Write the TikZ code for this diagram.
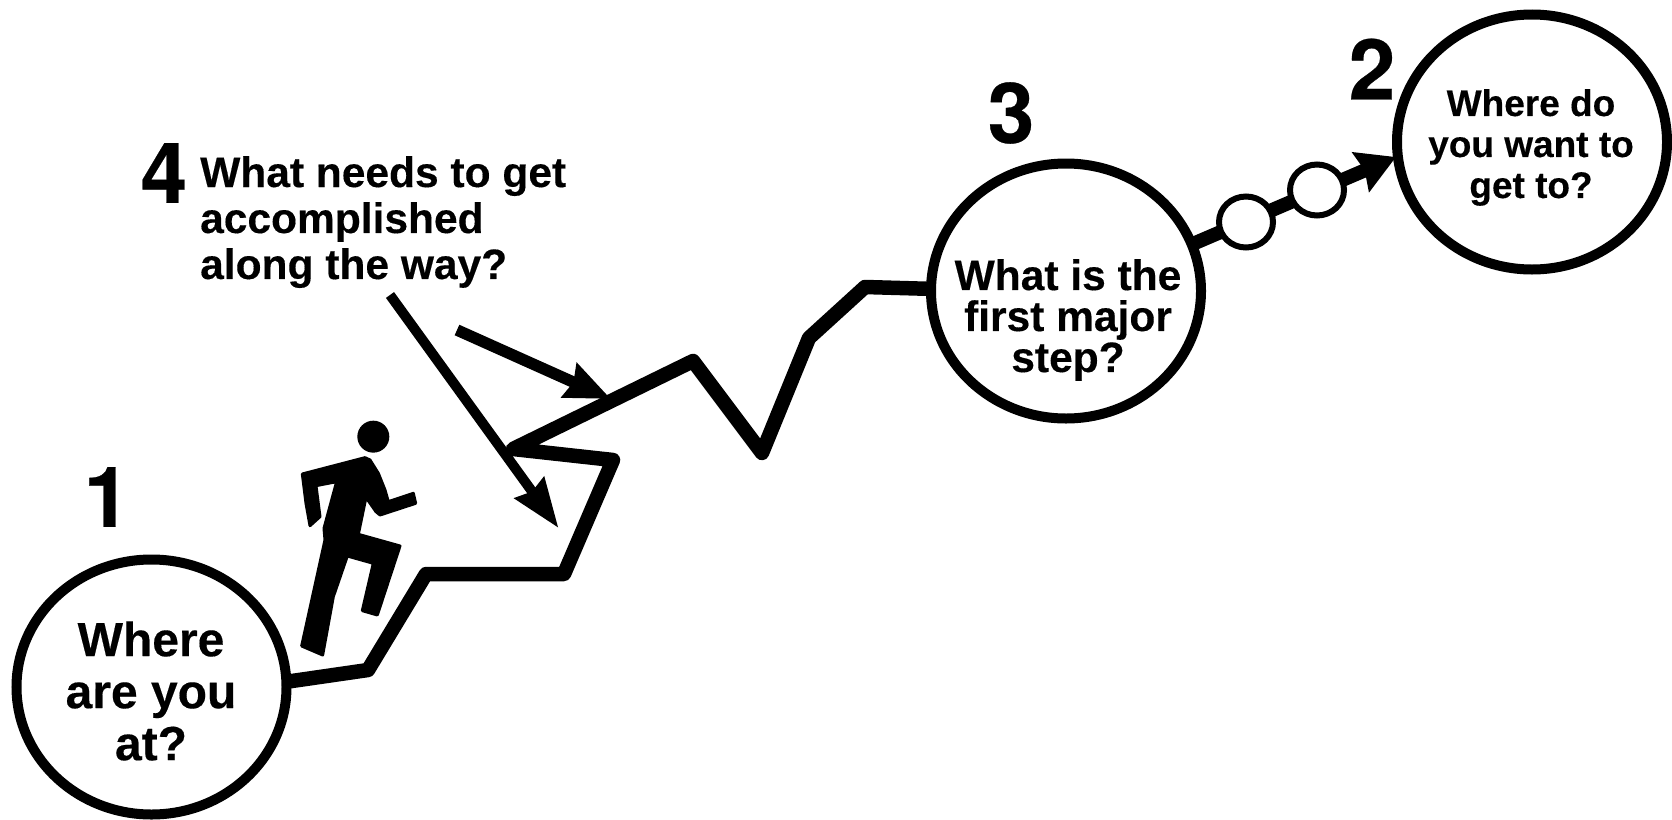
\documentclass[tikz,border=0pt]{standalone}
\usepackage{fontspec}
\setmainfont[BoldFeatures={FakeBold=0.3}]{Liberation Sans}
\newfontfamily\numfont[BoldFeatures={FakeBold=0.3}]{TeX Gyre Heros}
\usetikzlibrary{shapes.geometric,arrows.meta}
\tikzset{
  bubble/.style={ellipse,draw=black,fill=white,line width=10pt,inner sep=0pt,minimum width=270pt,minimum height=255pt},
  bubbletext/.style={inner sep=0pt,align=center},
  smallbubble/.style={ellipse,draw=black,fill=white,line width=6pt,inner sep=0pt,minimum width=54pt,minimum height=51pt},
  numlabel/.style={inner sep=0pt,font=\numfont\fontsize{84}{84}\selectfont\bfseries},
  trail/.style={line width=14.5pt,line join=round,line cap=round},
}
\begin{document}
\begin{tikzpicture}[x=1pt,y=-1pt]
\useasboundingbox (0,0) rectangle (1672,819);
\fill[white] (0,0) rectangle (1672,819);
% way points
\coordinate (s0) at (285,682);
\coordinate (s1) at (368,670);
\coordinate (s2) at (426,574);
\coordinate (s3) at (564,574);
\coordinate (s4) at (613,460);
\coordinate (s5) at (513,449);
\coordinate (s6) at (693,361);
\coordinate (s7) at (762,453);
\coordinate (s8) at (809,338);
\coordinate (s9) at (865,287);
\coordinate (s10) at (935,289);
\coordinate (a1s) at (390,295);
\coordinate (a1e) at (558.5,528);
\coordinate (a2s) at (457,330);
\coordinate (a2e) at (611,399);
\coordinate (a3s) at (1195,243);
\coordinate (a3e) at (1396,157);
% trail
\draw[trail] (s0) -- (s1) -- (s2) -- (s3) -- (s4) -- (s5) -- (s6) -- (s7) -- (s8) -- (s9) -- (s10);
\draw[-{Stealth[length=38pt,width=42pt,inset=4pt]},line width=14pt] (a3s) -- (a3e);
\draw[-{Stealth[length=49pt,width=35pt,inset=4pt]},line width=10pt] (a1s) -- (a1e);
\draw[-{Stealth[length=45pt,width=36pt,inset=4pt]},line width=11.5pt] (a2s) -- (a2e);
% bubbles
\node[bubble] (c1) at (151.5,687) {};
\node[bubble] (c3) at (1066,291) {};
\node[bubble] (c2) at (1532,142) {};
\node[bubbletext,font=\fontsize{48}{52}\selectfont\bfseries] (t1) at (151,691) {Where\\are you\\at?};
\node[bubbletext,font=\fontsize{42.5}{41}\selectfont\bfseries] (t3) at (1068,320) {What is the\\first major\\step?};
\node[bubbletext,font=\fontsize{37}{41}\selectfont\bfseries] (t2) at (1531,147.5) {Where do\\you want to\\get to?};
\node[smallbubble] (b1) at (1246,222) {};
\node[smallbubble] (b2) at (1317,190) {};
% numbers
\node[numlabel] (n1) at (107,497) {1};
\node[numlabel] (n2) at (1372,69) {2};
\node[numlabel] (n3) at (1011,113) {3};
\node[numlabel] (n4) at (164,173) {4};
\node[anchor=north west,inner sep=0pt,align=left,font=\fontsize{42.5}{46}\selectfont\bfseries] (q4) at (200,156)
  {What needs to get\\accomplished\\along the way?};
% runner
\begin{scope}[shift={(270,400)},x=0.3333pt,y=-0.3333pt]
\fill[black] (310,110) ellipse (48 and 48);
\filldraw[black,line width=3pt,line join=round] (97,222) -- (285,173) -- (300,180) -- (325,220) -- (345,270) -- (355,305)
  -- (430,280) -- (437,310) -- (330,345) -- (318,335) -- (288,292) -- (265,403) -- (390,438)
  -- (322,645) -- (277,632) -- (310,490) -- (232,468) -- (190,590) -- (158,765) -- (95,738)
  -- (165,420) -- (162,385) -- (200,245) -- (138,257) -- (150,350) -- (120,377) -- (108,310) -- cycle;
\end{scope}
\end{tikzpicture}
\end{document}
